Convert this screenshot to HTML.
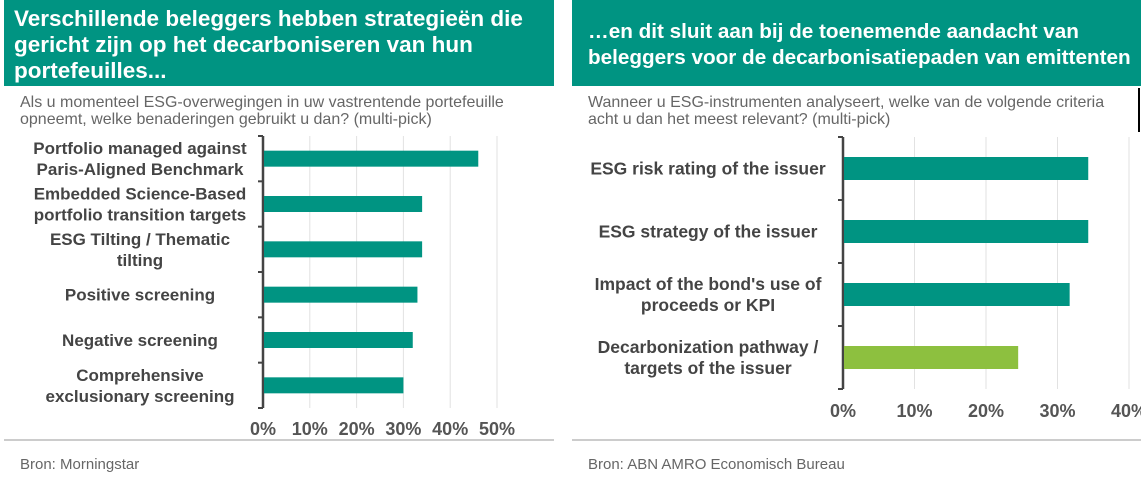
<!DOCTYPE html>
<html><head><meta charset="utf-8"><style>
body{margin:0;width:1141px;height:479px;background:#fff;font-family:"Liberation Sans",Arial,sans-serif;position:relative;overflow:hidden}
.hdr{position:absolute;top:0;height:86px;background:#009482;color:#fff;font-weight:bold;font-size:21px;line-height:26px;box-sizing:border-box;padding:6px 10px;white-space:nowrap}
.sub{position:absolute;color:#666;font-size:16px;line-height:17px;white-space:nowrap}
.src{position:absolute;color:#666;font-size:15px;top:456px}
.sep{position:absolute;top:439px;height:2px;background:#ccc}
svg{position:absolute;left:0;top:0}
</style></head><body>
<div class="hdr" style="left:4px;width:550px;font-size:22.5px">Verschillende beleggers hebben strategieën die<br>gericht zijn op het decarboniseren van hun<br>portefeuilles...</div>
<div class="hdr" style="left:572px;width:569px;padding-top:19px;padding-left:16px;font-size:20.7px">…en dit sluit aan bij de toenemende aandacht van<br>beleggers voor de decarbonisatiepaden van emittenten</div>
<div class="sub" style="left:20px;top:94px">Als u momenteel ESG-overwegingen in uw vastrentende portefeuille<br>opneemt, welke benaderingen gebruikt u dan? (multi-pick)</div>
<div class="sub" style="left:588px;top:94px">Wanneer u ESG-instrumenten analyseert, welke van de volgende criteria<br>acht u dan het meest relevant? (multi-pick)</div>
<div style="position:absolute;left:1138px;top:88px;width:2px;height:44px;background:#000"></div>
<div class="sep" style="left:4px;width:550px"></div>
<div class="sep" style="left:572px;width:569px"></div>
<div class="src" style="left:20px">Bron: Morningstar</div>
<div class="src" style="left:588px">Bron: ABN AMRO Economisch Bureau</div>
<svg width="1141" height="479" id="chart"></svg>
<script>
const leftCats=[["Portfolio managed against","Paris-Aligned Benchmark"],["Embedded Science-Based","portfolio transition targets"],["ESG Tilting / Thematic","tilting"],["Positive screening"],["Negative screening"],["Comprehensive","exclusionary screening"]];
const leftVals=[46,34,34,33,32,30];
const leftTicks=[0,10,20,30,40,50];
const rightCats=[["ESG risk rating of the issuer"],["ESG strategy of the issuer"],["Impact of the bond's use of","proceeds or KPI"],["Decarbonization pathway /","targets of the issuer"]];
const rightVals=[34.3,34.3,31.7,24.5];
const rightTicks=[0,10,20,30,40];
const rightColors=["#009482","#009482","#009482","#8dc03f"];
const NS="http://www.w3.org/2000/svg";
const svg=document.getElementById('chart');
function mk(t,a){const e=document.createElementNS(NS,t);for(const k in a)e.setAttribute(k,a[k]);svg.appendChild(e);return e;}
function draw(cfg){
  const {x0,pxPer,top,bottom,cats,vals,ticks,colors,barH,labelX,tickY,prefix,fs}=cfg;
  const xs=v=>x0+v*pxPer;
  const band=(bottom-top)/cats.length;
  ticks.forEach(t=>{
    if(t>0){const g=mk('line',{x1:xs(t),x2:xs(t),y1:top,y2:bottom,stroke:'#e2e2e2','stroke-width':1});
    }
    const tx=mk('text',{x:xs(t),y:tickY,'text-anchor':'middle','font-size':18,'font-weight':'bold',fill:'#555'});
    tx.textContent=t+'%';
    
  });
  const ax=mk('line',{x1:x0,x2:x0,y1:top,y2:bottom,stroke:'#444','stroke-width':2.5});
  
  for(let i=0;i<=cats.length;i++){const tk=mk('line',{x1:x0-5,x2:x0,y1:top+i*band,y2:top+i*band,stroke:'#444','stroke-width':2});
    }
  cats.forEach((c,i)=>{
    const cy=top+band*(i+0.5);
    const r=mk('rect',{x:x0+1,y:cy-barH/2,width:xs(vals[i])-x0-1,height:barH,fill:colors[i]});
    
    const t=mk('text',{x:labelX,y:cy-(c.length-1)*10.5+6,'text-anchor':'middle','font-size':fs,'font-weight':'bold',fill:'#444'});
    
    c.forEach((ln,j)=>{const s=document.createElementNS(NS,'tspan');s.setAttribute('x',labelX);s.setAttribute('dy',j?21:0);s.textContent=ln;t.appendChild(s);});
  });
}
draw({x0:263,pxPer:4.68,top:136,bottom:408,cats:leftCats,vals:leftVals,ticks:leftTicks,colors:leftVals.map(()=>'#009482'),barH:16,labelX:140,tickY:435,prefix:'left',fs:17});
draw({x0:843,pxPer:7.15,top:137,bottom:389,cats:rightCats,vals:rightVals,ticks:rightTicks,colors:rightColors,barH:23,labelX:708,tickY:417,prefix:'right',fs:17.5});
</script>
</body></html>
